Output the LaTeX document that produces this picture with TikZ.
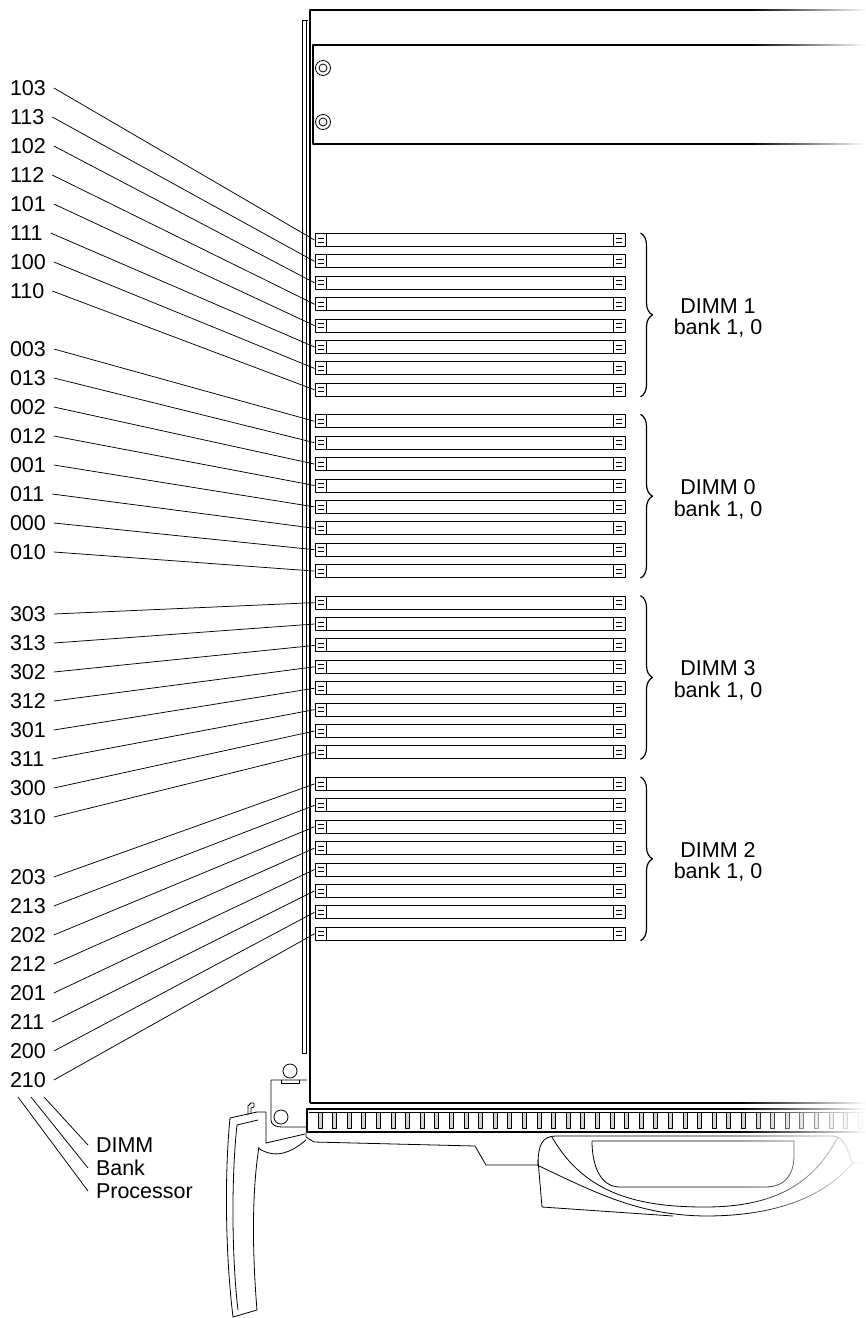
\documentclass[tikz,border=0pt]{standalone}
\usepackage{fontspec}
\setmainfont{Liberation Sans}
\usetikzlibrary{decorations.pathreplacing,fadings}

\tikzfading[name=fadeout, left color=transparent!100, right color=transparent!0]

\begin{document}
\begin{tikzpicture}[x=1pt, y=-1pt, line join=round,
  every node/.style={font=\fontsize{21.5}{21.5}\selectfont},
  slot/.style={draw, line width=1pt, minimum width=310pt, minimum height=13pt, inner sep=0pt},
  nr/.style={anchor=west, inner sep=0pt, outer xsep=8pt},
  key/.style={anchor=west, inner sep=0pt, outer xsep=8pt},
  leader/.style={line width=0.75pt},
  boardline/.style={line width=1.5pt},
  fine/.style={line width=0.8pt},
  bracket/.style={decorate, decoration={brace, amplitude=12pt}, line width=1.2pt}]
  \useasboundingbox (0,0) rectangle (866,1318);

  % board outline and top panel
  \draw[boardline] (310,1103) -- (310,10) -- (866,10);
  \draw[boardline] (866,45) -- (313,45) -- (313,144) -- (866,144);
  \draw[fine] (323,68) circle (7.5) circle (4);
  \draw[fine] (323,122) circle (7.5) circle (4);
  \draw[fine] (308,20) -- (302,20) -- (302,1053) -- (306,1053) -- (306,20);

  % slots, numbers and leaders
  \foreach \g/\p/\ly/\n in {0/1/88/1, 1/0/349/0, 2/3/614/3, 3/2/877/2} {
    \foreach \i in {0,...,7} {
      \pgfmathtruncatemacro\d{3-int(\i/2)}
      \pgfmathtruncatemacro\b{mod(\i,2)}
      \node[slot] (s\g\i) at (470,240+181.3*\g+21.4*\i) {};
      \draw[fine] (s\g\i.west) ++(12,-6.5) -- ++(0,13)
        (s\g\i.west) ++(3,-2) -- ++(6,0) ++(-6,4) -- ++(6,0);
      \draw[fine] (s\g\i.east) ++(-12,-6.5) -- ++(0,13)
        (s\g\i.east) ++(-10,-2) -- ++(6,0) ++(-6,4) -- ++(6,0);
      \node[nr] (l\g\i) at (2,\ly+29*\i) {\p\b\d};
      \draw[leader] (l\g\i.east) -- (s\g\i.west);
    }
    \draw[bracket] ([xshift=15pt]s\g0.north east) -- ([xshift=15pt]s\g7.south east);
    \node[align=center] (d\g) at (718,318+181.3*\g) {DIMM \n\\bank 1, 0};
  }

  % key to the digits
  \node[key] (kd) at (88,1145) {DIMM};
  \node[key] (kb) at (88,1168) {Bank};
  \node[key] (kp) at (88,1191) {Processor};
  \coordinate (cp) at (18,1097);
  \coordinate (cb) at (31,1097);
  \coordinate (cd) at (44,1097);
  \draw[leader] (cd) -- (kd.west);
  \draw[leader] (cb) -- (kb.west);
  \draw[leader] (cp) -- (kp.west);

  % connector comb
  \draw[boardline] (310,1103) -- (866,1103);
  \draw[boardline] (307,1109) rectangle (870,1132);
  \draw[fine] (309,1112) -- (866,1112);
  \foreach \x in {0,...,37}
    \draw[fine, fill=gray!35] (318+14.6*\x,1112) rectangle ++(4,16);
  \draw[fine] (306,1132) -- (306,1137) -- (314,1142) -- (475,1146) -- (486,1165) -- (537,1165);

  % handle at the right
  \draw[fine] (538,1165) .. controls (538,1145) and (542,1136) .. (556,1136) -- (832,1136)
    .. controls (842,1136) and (847,1145) .. (852,1163) -- (866,1163);
  \draw[fine] (538,1160) -- (542,1207) -- (673,1216);
  \draw[fine] (537,1165) .. controls (600,1195) and (640,1215) .. (705,1216)
    .. controls (780,1216) and (825,1195) .. (853,1163);
  \draw[fine] (552,1137) .. controls (585,1195) and (640,1207) .. (705,1207)
    .. controls (780,1207) and (815,1180) .. (838,1137);
  \draw[fine] (592,1141) -- (794,1141) -- (794,1155) .. controls (794,1175) and (785,1187) .. (765,1187)
    -- (620,1187) .. controls (600,1187) and (592,1165) .. (592,1141);

  % lever at the left
  \draw[fine] (290,1071) circle (7);
  \draw[fine] (307,1080) -- (271,1080) -- (271,1120) .. controls (271,1125) and (276,1127) .. (282,1127) -- (307,1127);
  \draw[fine] (281,1080) -- (281,1083.5) -- (299,1083.5) -- (299,1080);
  \draw[fine] (281,1117) circle (7);
  \draw[fine] (248,1115) -- (248,1106) -- (251,1103) -- (254,1103) -- (254,1107) -- (251,1108) -- (251,1113);
  \draw[fine] (257,1112) -- (230,1118) .. controls (224,1180) and (226,1260) .. (233,1317)
    -- (257,1310) .. controls (252,1250) and (252,1190) .. (259,1147);
  \draw[fine] (258,1120) -- (237,1125) .. controls (231,1180) and (232,1260) .. (238,1310);
  \draw[fine] (257,1112) -- (266,1112) -- (266,1143) -- (305,1134);
  \draw[fine] (258,1148) .. controls (270,1156) and (285,1158) .. (306,1140);

  % fade to the right
  \fill[white, path fading=fadeout] (750,0) rectangle (866,150);
  \fill[white, path fading=fadeout] (740,1095) rectangle (866,1230);
\end{tikzpicture}
\end{document}
